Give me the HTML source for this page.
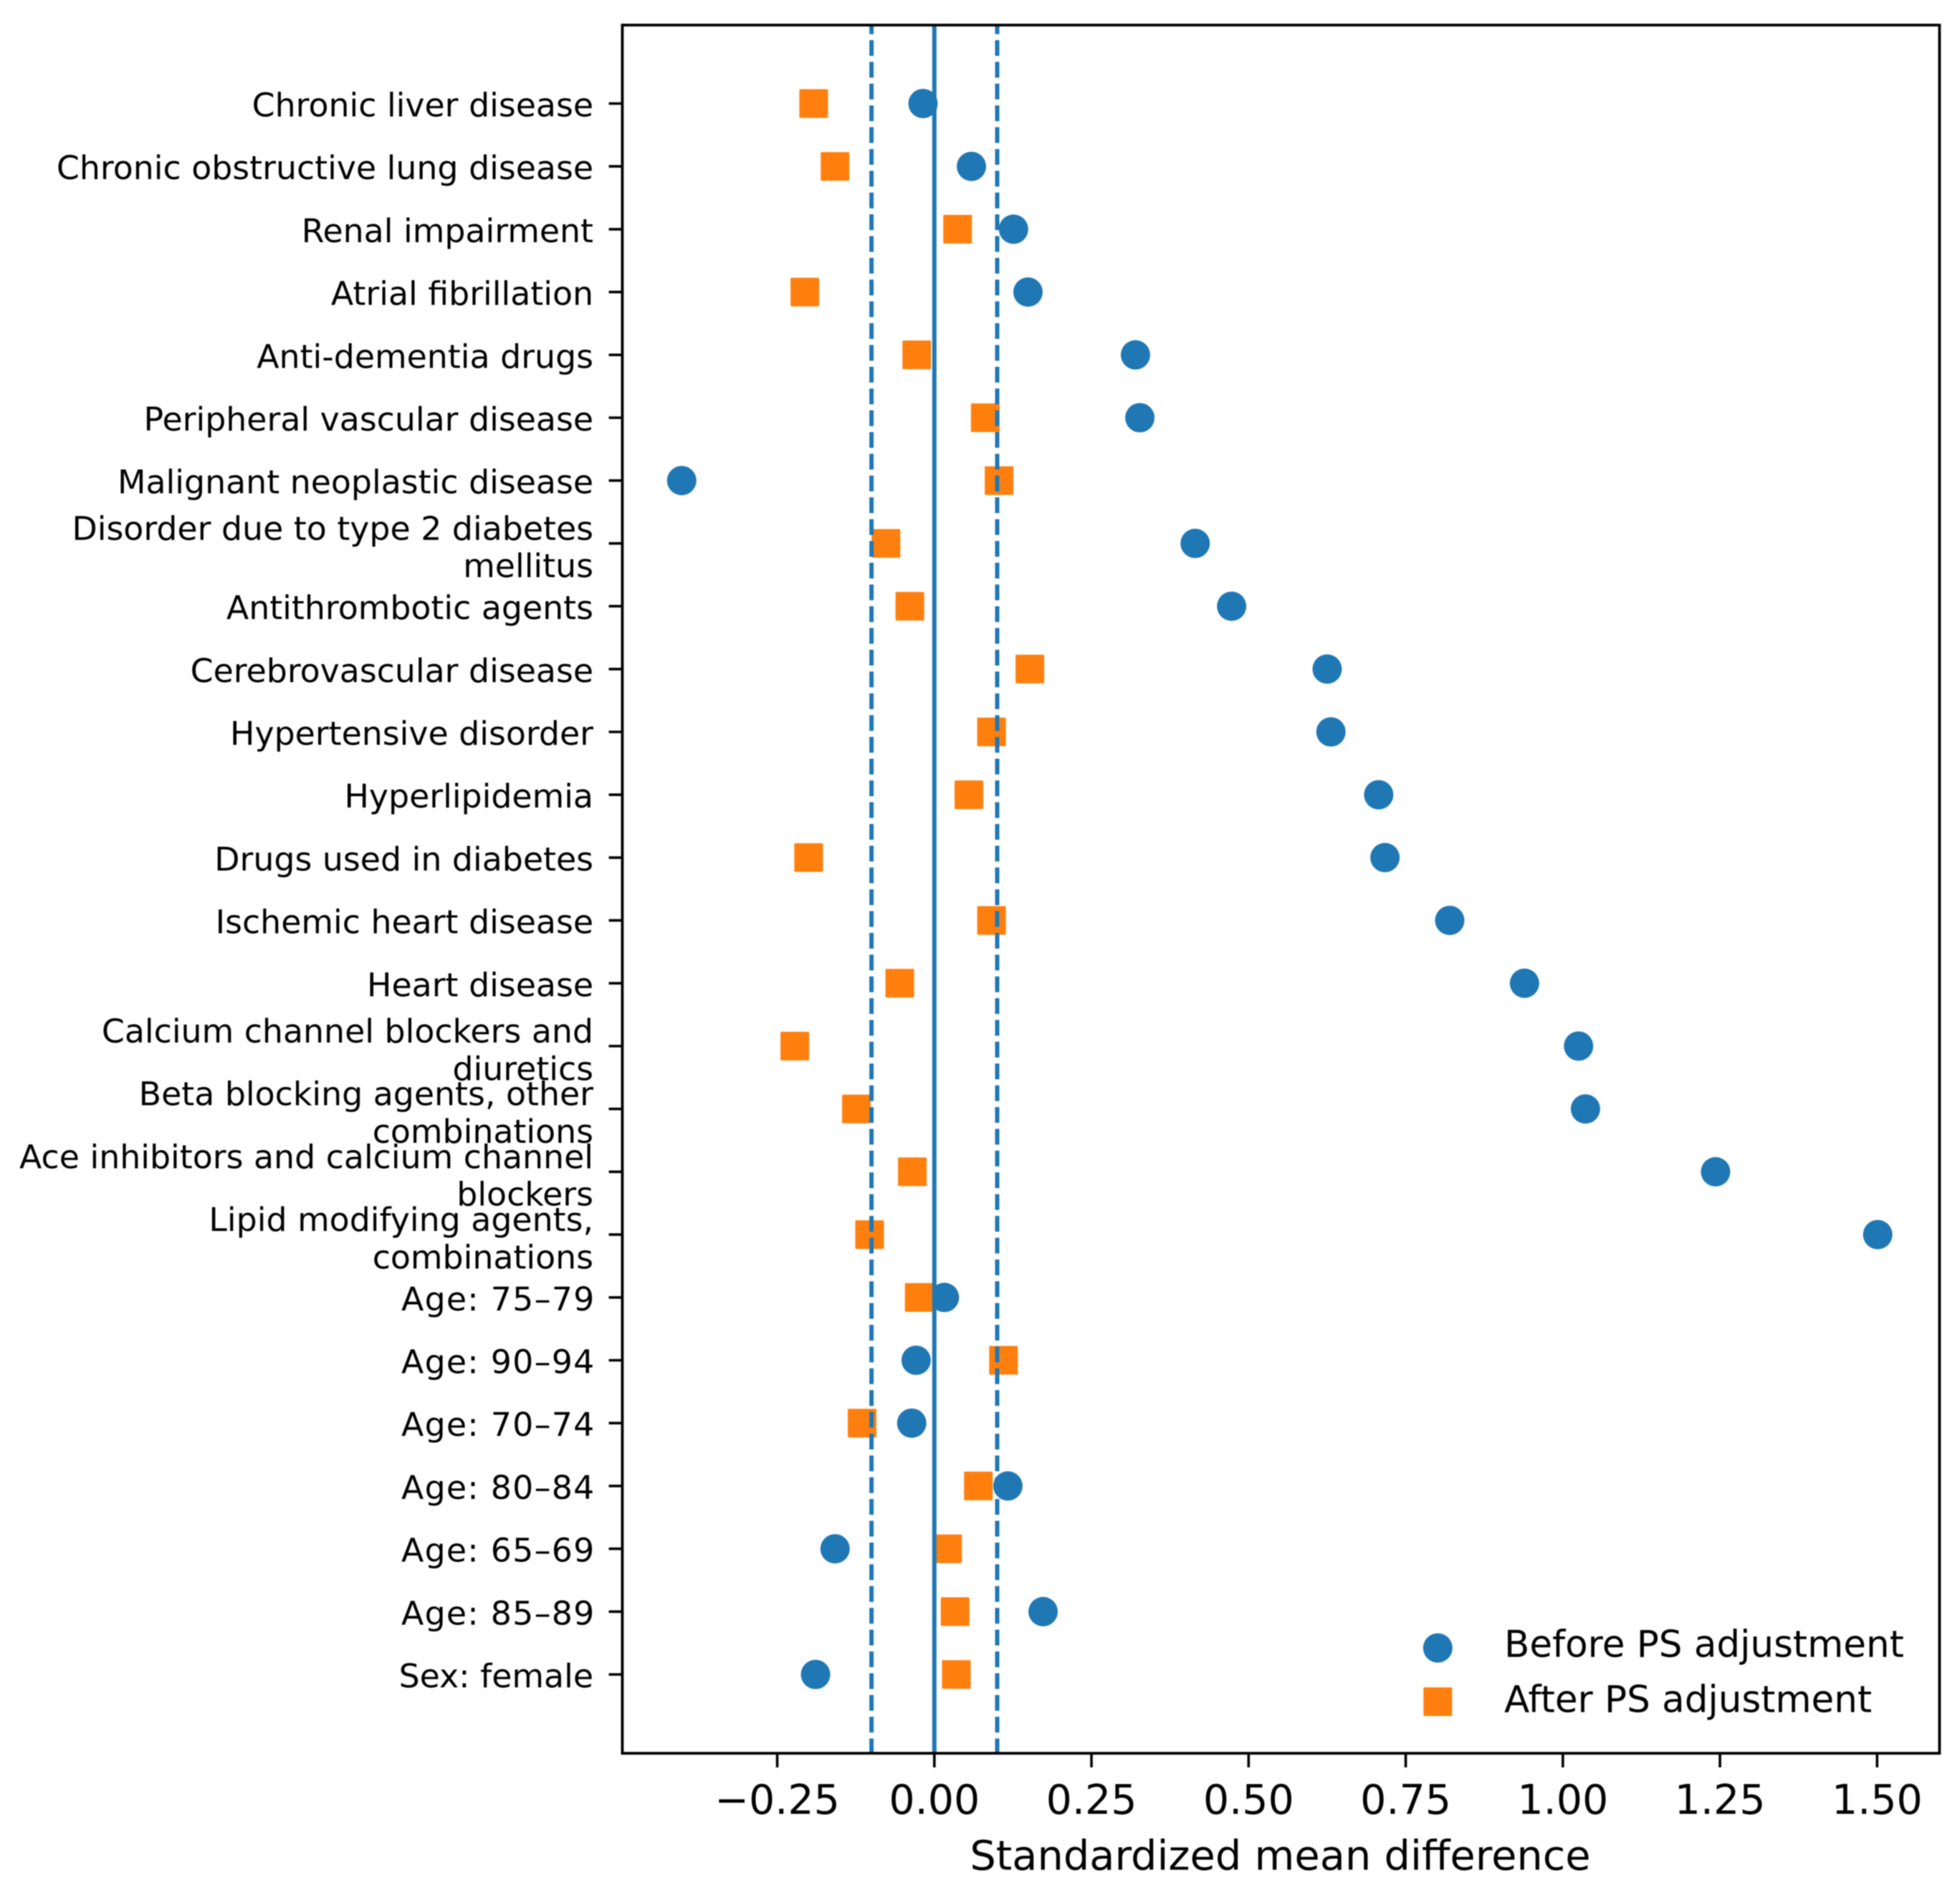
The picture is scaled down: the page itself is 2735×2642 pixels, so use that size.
<!DOCTYPE html>
<html lang="en">
<head>
<meta charset="utf-8">
<title>Standardized mean difference before and after PS adjustment</title>
<style>
  html, body { margin: 0; padding: 0; background: #ffffff; }
  svg { display: block; filter: blur(0.7px); }
  text { font-family: "DejaVu Sans", "Liberation Sans", sans-serif; fill: #000000; }
</style>
</head>
<body>
<svg id="chart" xmlns="http://www.w3.org/2000/svg" width="2735" height="2642" viewBox="0 0 2735 2642">
  <rect x="0" y="0" width="2735" height="2642" fill="#ffffff"></rect>
  <g id="markers"></g>
  <g id="refs"></g>
  <g id="yaxis"></g>
  <g id="xaxis"></g>
  <rect x="868.4" y="35" width="1838" height="2412" fill="none" stroke="#000000" stroke-width="3.8"></rect>
  <text x="1786.5" y="2609.5" font-size="57.4" text-anchor="middle">Standardized mean difference</text>
  <g>
    <circle cx="2006.3" cy="2300" r="20.5" fill="#1f77b4"></circle>
    <text x="2099" y="2312.7" font-size="51.5">Before PS adjustment</text>
    <rect x="1986.3" y="2355" width="40" height="40" rx="1.5" fill="#ff7f0e"></rect>
    <text x="2099" y="2389.3" font-size="51.5">After PS adjustment</text>
  </g>
</svg>
<script>
const categories = [
  "Chronic liver disease",
  "Chronic obstructive lung disease",
  "Renal impairment",
  "Atrial fibrillation",
  "Anti-dementia drugs",
  "Peripheral vascular disease",
  "Malignant neoplastic disease",
  "Disorder due to type 2 diabetes\nmellitus",
  "Antithrombotic agents",
  "Cerebrovascular disease",
  "Hypertensive disorder",
  "Hyperlipidemia",
  "Drugs used in diabetes",
  "Ischemic heart disease",
  "Heart disease",
  "Calcium channel blockers and\ndiuretics",
  "Beta blocking agents, other\ncombinations",
  "Ace inhibitors and calcium channel\nblockers",
  "Lipid modifying agents,\ncombinations",
  "Age: 75\u201379",
  "Age: 90\u201394",
  "Age: 70\u201374",
  "Age: 80\u201384",
  "Age: 65\u201369",
  "Age: 85\u201389",
  "Sex: female"
];
const beforeValues = [
  -0.018, 0.059, 0.126, 0.149, 0.32, 0.327, -0.402, 0.415, 0.473, 0.625, 0.631, 0.707, 0.717,
  0.82, 0.939, 1.025, 1.036, 1.243, 1.501, 0.016, -0.029, -0.036, 0.117, -0.158, 0.173, -0.189
];
const afterValues = [
  -0.192, -0.158, 0.037, -0.206, -0.028, 0.081, 0.103, -0.077, -0.039, 0.152, 0.091, 0.055, -0.2,
  0.091, -0.055, -0.222, -0.124, -0.035, -0.103, -0.024, 0.11, -0.115, 0.07, 0.021, 0.033, 0.035
];
const xTickValues = [-0.25, 0, 0.25, 0.5, 0.75, 1, 1.25, 1.5];
const xTickLabels = ["\u22120.25", "0.00", "0.25", "0.50", "0.75", "1.00", "1.25", "1.50"];
const dashedRefValues = [-0.1, 0.1];
const solidRefValue = 0;

const SVG_NS = "http://www.w3.org/2000/svg";
const xScale = function (v) { return 1303.8 + 877 * v; };
const yScale = function (i) { return 144.5 + 87.7 * i; };
const PLOT_TOP = 35, PLOT_BOTTOM = 2447, PLOT_LEFT = 868.4;

function make(tag, parent) {
  const el = document.createElementNS(SVG_NS, tag);
  parent.appendChild(el);
  return el;
}
function setAll(el, attrs) {
  Object.keys(attrs).forEach(function (k) { el.setAttribute(k, attrs[k]); });
}

const markers = document.getElementById("markers");
const refs = document.getElementById("refs");
const yaxis = document.getElementById("yaxis");
const xaxis = document.getElementById("xaxis");

beforeValues.forEach(function (v, i) {
  const c = make("circle", markers);
  
  
  setAll(c, { cx: xScale(v), cy: yScale(i), r: 20.5, fill: "#1f77b4" });
});
afterValues.forEach(function (v, i) {
  const r = make("rect", markers);
  
  
  setAll(r, { x: xScale(v) - 20, y: yScale(i) - 20, width: 40, height: 40, rx: 1.5, fill: "#ff7f0e" });
});

const solidLine = make("line", refs);


setAll(solidLine, { x1: xScale(solidRefValue), x2: xScale(solidRefValue), y1: PLOT_TOP, y2: PLOT_BOTTOM, stroke: "#1f77b4", "stroke-width": 6 });

dashedRefValues.forEach(function (v) {
  const l = make("line", refs);
  
  
  setAll(l, { x1: xScale(v), x2: xScale(v), y1: PLOT_TOP, y2: PLOT_BOTTOM, stroke: "#1f77b4", "stroke-width": 6, "stroke-dasharray": "22 8.39", "stroke-dashoffset": 9.4 });
});

categories.forEach(function (label, i) {
  const y = yScale(i);
  const tick = make("line", yaxis);
  
  
  setAll(tick, { x1: 849.5, x2: PLOT_LEFT, y1: y, y2: y, stroke: "#000000", "stroke-width": 3.6 });
  const lines = label.split("\n");
  const offsets = lines.length === 2 ? [-5, 47.3] : [18];
  lines.forEach(function (line, j) {
    const t = make("text", yaxis);
    
    
    setAll(t, { x: 828, y: y + offsets[j], "font-size": 45.8, "text-anchor": "end" });
    if (line.indexOf("\u2013") >= 0) {
      setAll(t, { x: 830.5, "letter-spacing": 1.25 });
    }
    t.textContent = line;
  });
});

xTickValues.forEach(function (v, i) {
  const x = xScale(v);
  const tick = make("line", xaxis);
  
  
  setAll(tick, { x1: x, x2: x, y1: PLOT_BOTTOM, y2: 2466.7, stroke: "#000000", "stroke-width": 3.6 });
  const t = make("text", xaxis);
  
  
  setAll(t, { x: x, y: 2531.7, "font-size": 57, "text-anchor": "middle" });
  t.textContent = xTickLabels[i];
});
</script>
</body>
</html>
